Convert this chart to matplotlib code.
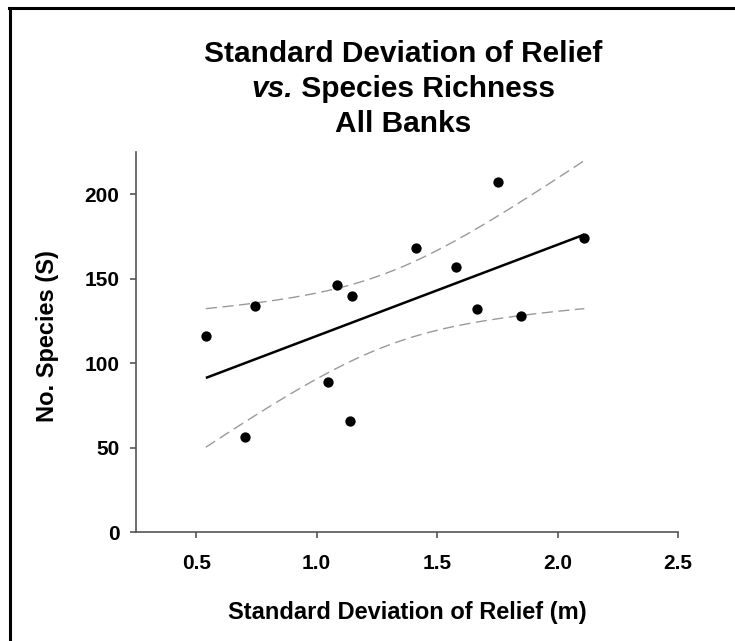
import numpy as np
import matplotlib
matplotlib.use("Agg")
import matplotlib.pyplot as plt
from matplotlib.lines import Line2D

plt.rcParams['font.family'] = ['Liberation Sans', 'DejaVu Sans']
plt.rcParams['font.weight'] = 'bold'

# Standard deviation of relief (m) and species richness for each bank
relief_sd = [0.54, 0.745, 1.086, 1.146, 1.413, 1.754, 1.578, 2.111, 1.665, 1.847, 0.702, 1.049, 1.140]
species = [116, 134, 146, 140, 168, 207, 157, 174, 132, 128, 56, 89, 66]

x_ticks = [0.5, 1.0, 1.5, 2.0, 2.5]
y_ticks = [0, 50, 100, 150, 200]
t_crit = 2.201  # two-sided 95%, df = 11

x = np.asarray(relief_sd, float)
y = np.asarray(species, float)
n = len(x)

# Least-squares fit and 95% confidence band of the mean response
slope, intercept = np.polyfit(x, y, 1)
resid = y - (intercept + slope * x)
s = np.sqrt(np.sum(resid ** 2) / (n - 2))
sxx = np.sum((x - x.mean()) ** 2)
xg = np.linspace(x.min(), x.max(), 200)
yg = intercept + slope * xg
half = t_crit * s * np.sqrt(1.0 / n + (xg - x.mean()) ** 2 / sxx)

W, H = 735, 641
fig = plt.figure(figsize=(W / 100, H / 100), dpi=100)
ax = fig.add_axes([136 / W, 1 - 532 / H, 542 / W, 380 / H])

ax.plot(xg, yg + half, color='#9a9a9a', lw=1.0, dashes=(8, 4))
ax.plot(xg, yg - half, color='#9a9a9a', lw=1.0, dashes=(8, 4))
ax.plot(xg, yg, color='black', lw=1.8, solid_capstyle='butt')
ax.scatter(x, y, s=55, color='black', zorder=5, linewidths=0)

ax.set_xlim(0.25, 2.5)
ax.set_ylim(0, 225)
ax.set_xticks(x_ticks)
ax.set_xticklabels([f"{v:.1f}" for v in x_ticks])
ax.set_yticks(y_ticks)
ax.set_yticklabels([str(v) for v in y_ticks])

for side in ('top', 'right'):
    ax.spines[side].set_visible(False)
for side in ('left', 'bottom'):
    ax.spines[side].set_color('#555555')
    ax.spines[side].set_linewidth(1.2)
ax.tick_params(axis='both', direction='out', length=4, width=1.2, color='#555555',
               labelsize=15, labelcolor='black')
ax.tick_params(axis='x', pad=12)
ax.tick_params(axis='y', pad=8)
for lab in ax.get_xticklabels() + ax.get_yticklabels():
    lab.set_fontweight('bold')

ax.set_xlabel('Standard Deviation of Relief (m)', fontsize=17, fontweight='bold')
ax.set_ylabel('No. Species (S)', fontsize=17, fontweight='bold')
ax.xaxis.set_label_coords(0.5, (532 - 612) / 380)
ax.yaxis.set_label_coords((48 - 136) / 542, (532 - 336) / 380)
ax.xaxis.label.set_va('center')
ax.yaxis.label.set_va('center')

# Three-line title, second line starts with italic "vs."
cx = 403 / W
tsize = 21.5
fig.text(cx, 1 - 54 / H, 'Standard Deviation of Relief', ha='center', va='center',
         fontsize=tsize, fontweight='bold')
fig.text(cx, 1 - 124 / H, 'All Banks', ha='center', va='center',
         fontsize=tsize, fontweight='bold')
t1 = fig.text(0, 1 - 89 / H, 'vs.', ha='left', va='center', fontsize=tsize,
              fontweight='bold', fontstyle='italic')
t2 = fig.text(0, 1 - 89 / H, '\u00a0Species Richness', ha='left', va='center',
              fontsize=tsize, fontweight='bold')
fig.canvas.draw()
r = fig.canvas.get_renderer()
w1 = t1.get_window_extent(r).width / W
w2 = t2.get_window_extent(r).width / W
start = cx - (w1 + w2) / 2
t1.set_x(start)
t2.set_x(start + w1)

# Outer frame along the top and left edges
fig.add_artist(Line2D([10 / W, 10 / W], [0, 1 - 8 / H], transform=fig.transFigure,
                      color='black', lw=2.2))
fig.add_artist(Line2D([9 / W, 1], [1 - 8 / H, 1 - 8 / H], transform=fig.transFigure,
                      color='black', lw=2.2))

fig.savefig('out.png', dpi=100)
